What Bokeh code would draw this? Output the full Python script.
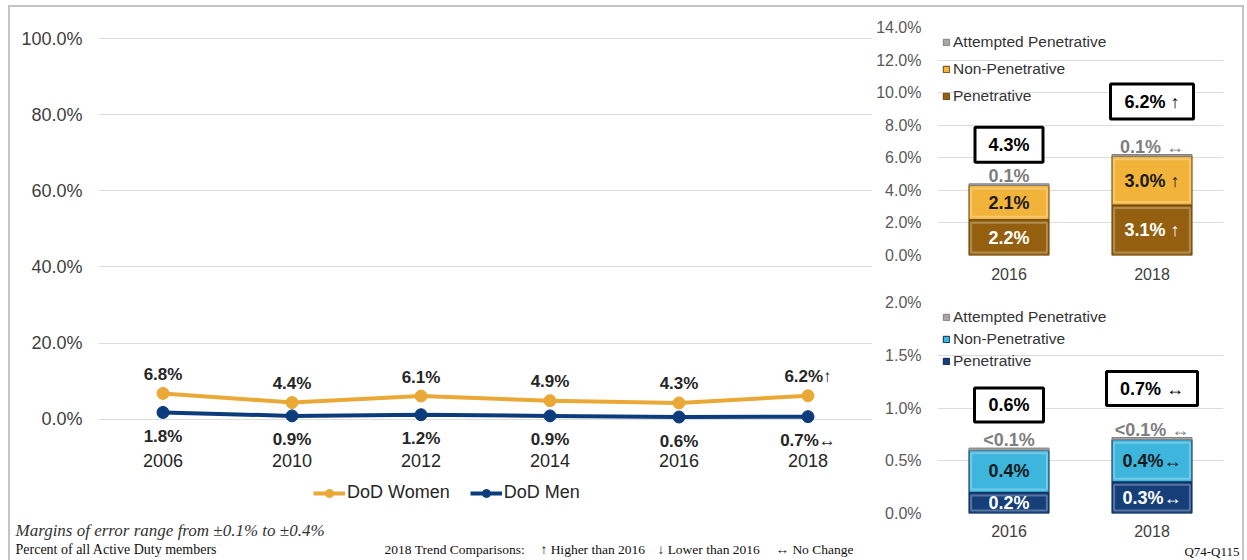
from bokeh.plotting import figure
from bokeh.models import (FactorRange, Range1d, FixedTicker, PrintfTickFormatter,
                          Legend, LegendItem, Label, ColumnDataSource, Title)
from bokeh.layouts import row, column
from bokeh.embed import file_html
from bokeh.resources import INLINE
from bokeh.core.properties import value

SANS = "Liberation Sans"
SERIF = "Liberation Serif"

# ---------------- data ----------------
years = ["2006", "2010", "2012", "2014", "2016", "2018"]
women = [6.8, 4.4, 6.1, 4.9, 4.3, 6.2]
men = [1.8, 0.9, 1.2, 0.9, 0.6, 0.7]
women_trend = ["", "", "", "", "", "\u2191"]
men_trend = ["", "", "", "", "", "\u2194"]

bar_years = ["2016", "2018"]
women_pen = [2.2, 3.1]
women_non = [2.1, 3.0]
women_att = [0.1, 0.1]
women_total = [4.3, 6.2]
women_pen_trend = ["", " \u2191"]
women_non_trend = ["", " \u2191"]
women_att_trend = ["", " \u2194"]
women_total_trend = ["", " \u2191"]

men_pen = [0.2, 0.3]
men_non = [0.4, 0.4]
men_att = [0.02, 0.02]
men_total = [0.6, 0.7]
men_pen_trend = ["", "\u2194"]
men_non_trend = ["", "\u2194"]
men_att_trend = ["", " \u2194"]
men_total_trend = ["", " \u2194"]

tick_left = [0, 20, 40, 60, 80, 100]
tick_women = [0, 2, 4, 6, 8, 10, 12, 14]
tick_men = [0, 0.5, 1.0, 1.5, 2.0]

# ---------------- styles ----------------
GOLD = "#EAA937"
NAVY = "#0C3C7C"
BROWN = "#94600F"
AMBER = "#F2B33A"
GRAYBAR = "#A6A6A6"
DNAVY = "#163F7A"
CYAN = "#3DB5DD"
GRID = "#DCDCDC"


def pct(v):
    return "<0.1%" if v < 0.05 else f"{v:.1f}%"


def style_axes(p, ysize, xsize, ycolor, xcolor, ystand, xstand):
    for ax in (p.xaxis[0], p.yaxis[0]):
        ax.axis_line_color = None
        ax.major_tick_line_color = None
        ax.minor_tick_line_color = None
        ax.major_label_text_font = SANS
    p.yaxis.major_label_text_font_size = ysize
    p.yaxis.major_label_text_color = ycolor
    p.yaxis.major_label_standoff = ystand
    p.xaxis.major_label_text_font_size = xsize
    p.xaxis.major_label_text_color = xcolor
    p.xaxis.major_label_standoff = xstand
    p.outline_line_color = None
    p.xgrid.grid_line_color = None
    p.ygrid.grid_line_color = GRID
    p.background_fill_color = "white"
    p.border_fill_color = "white"


# ---------------- left line chart ----------------
left = figure(width=863, height=510, x_range=FactorRange(*years),
              y_range=Range1d(-25.263, 104.737), output_backend="svg",
              toolbar_location=None, min_border_left=88, min_border_right=1,
              min_border_top=13, min_border_bottom=2)
style_axes(left, "18px", "18px", "#404040", "#262626", 10, 0)
left.xaxis.fixed_location = -7.63
left.yaxis.ticker = FixedTicker(ticks=tick_left)
left.ygrid.ticker = FixedTicker(ticks=tick_left)
left.yaxis.formatter = PrintfTickFormatter(format="%.1f%%")

src = ColumnDataSource(dict(
    year=years, women=women, men=men,
    wl=[pct(v) + t for v, t in zip(women, women_trend)],
    ml=[pct(v) + t for v, t in zip(men, men_trend)],
))
w_line = left.line("year", "women", source=src, line_color=GOLD, line_width=4)
w_pt = left.scatter("year", "women", source=src, size=12, fill_color=GOLD, line_color=GOLD)
m_line = left.line("year", "men", source=src, line_color=NAVY, line_width=4)
m_pt = left.scatter("year", "men", source=src, size=12, fill_color=NAVY, line_color=NAVY)
left.text("year", "women", text="wl", source=src, text_align="center",
          text_baseline="middle", y_offset=-19, text_font=value(SANS),
          text_font_style="bold", text_font_size="17px", text_color="#262626")
left.text("year", "men", text="ml", source=src, text_align="center",
          text_baseline="middle", y_offset=24, text_font=value(SANS),
          text_font_style="bold", text_font_size="17px", text_color="#262626")

leg = Legend(items=[LegendItem(label="DoD Women", renderers=[w_line, w_pt]),
                    LegendItem(label="DoD Men", renderers=[m_line, m_pt])],
             orientation="horizontal", location=(215, 12), glyph_width=32,
             glyph_height=20, label_height=20, label_standoff=2, spacing=20,
             padding=0, margin=0, label_text_font=SANS, label_text_font_size="18px",
             label_text_color="#262626", background_fill_alpha=0,
             border_line_color=None)
left.add_layout(leg)

# ---------------- footer strip under the line chart ----------------
foot = figure(width=863, height=43, x_range=Range1d(0, 863), y_range=Range1d(0, 43),
              output_backend="svg", toolbar_location=None, x_axis_type=None,
              y_axis_type=None, min_border=0, outline_line_color=None,
              frame_align=False)
foot.grid.visible = False
foot.add_layout(Label(x=5, y=30, x_units="screen", y_units="screen",
                      text="Margins of error range from \u00b10.1% to \u00b10.4%",
                      text_font=SERIF, text_font_style="italic", text_font_size="17px",
                      text_color="#333333", text_baseline="middle"))
foot.add_layout(Label(x=5, y=11, x_units="screen", y_units="screen",
                      text="Percent of all Active Duty members", text_font=SERIF,
                      text_font_size="14px", text_color="#111111", text_baseline="middle"))
for xx, tt in [(374, "2018 Trend Comparisons:"), (530, "\u2191 Higher than 2016"),
               (647, "\u2193 Lower than 2016"), (765, "\u2194 No Change")]:
    foot.add_layout(Label(x=xx, y=11, x_units="screen", y_units="screen", text=tt,
                          text_font=SERIF, text_font_size="13.5px", text_color="#111111",
                          text_baseline="middle"))


# ---------------- stacked bar charts ----------------
def bar_chart(height, ymax, ticks, bt, bb, xstand, pen, non, att, total, tr_pen,
              tr_non, tr_att, tr_tot, c_pen, c_non, c_line, px_unit, box_gap, box_w,
              box_h, legend_spacing):
    p = figure(width=369, height=height, x_range=FactorRange(*bar_years),
               y_range=Range1d(0, ymax), output_backend="svg", toolbar_location=None,
               min_border_left=64, min_border_right=19, min_border_top=bt,
               min_border_bottom=bb)
    style_axes(p, "16px", "16px", "#595959", "#404040", 10, xstand)
    p.yaxis.ticker = FixedTicker(ticks=ticks)
    p.ygrid.ticker = FixedTicker(ticks=ticks)
    p.yaxis.formatter = PrintfTickFormatter(format="%.1f%%")

    mid = [a + b for a, b in zip(pen, non)]
    top = [m + c for m, c in zip(mid, att)]
    r_pen = p.vbar(x=bar_years, bottom=0, top=pen, width=0.56, fill_color=c_pen,
                   line_color=c_line, line_width=1)
    r_non = p.vbar(x=bar_years, bottom=pen, top=mid, width=0.56, fill_color=c_non,
                   line_color=c_line, line_width=1)
    r_att = p.vbar(x=bar_years, bottom=mid, top=top, width=0.56, fill_color=GRAYBAR,
                   line_color="#808080", line_width=1)
    # soft inner highlight to suggest the bevelled bars
    inset = 3 / px_unit
    for b, t in [([0, 0], pen), (pen, mid)]:
        p.vbar(x=bar_years, bottom=[v + inset for v in b], top=[v - inset for v in t],
               width=0.53, fill_color=None, line_color="white", line_alpha=0.28,
               line_width=2)

    common = dict(text_align="center", text_baseline="middle", text_font=value(SANS),
                  text_font_style="bold", text_font_size="18px")
    p.text(x=bar_years, y=[v / 2 for v in pen],
           text=[pct(v) + t for v, t in zip(pen, tr_pen)], text_color="white", **common)
    p.text(x=bar_years, y=[a + b / 2 for a, b in zip(pen, non)],
           text=[pct(v) + t for v, t in zip(non, tr_non)], text_color="#1A1A1A", **common)
    p.text(x=bar_years, y=top, y_offset=-8,
           text=[pct(v) + t for v, t in zip(att, tr_att)], text_color="#7F7F7F", **common)

    box_y = [t + g / px_unit for t, g in zip(top, box_gap)]
    p.rect(x=bar_years, y=box_y, width=box_w, height=box_h, width_units="screen",
           height_units="screen", fill_color="white", line_color="black", line_width=3)
    p.text(x=bar_years, y=box_y, text=[pct(v) + t for v, t in zip(total, tr_tot)],
           text_color="black", **common)

    lg = Legend(items=[LegendItem(label="Attempted Penetrative", renderers=[r_att]),
                       LegendItem(label="Non-Penetrative", renderers=[r_non]),
                       LegendItem(label="Penetrative", renderers=[r_pen])],
                location="top_left", glyph_width=8, glyph_height=8, label_height=20,
                label_standoff=3, spacing=legend_spacing, padding=0,
                margin=5, label_text_font=SANS,
                label_text_font_size="15.5px", label_text_color="#333333",
                background_fill_alpha=0, border_line_color=None)
    p.add_layout(lg)
    return p


tr = bar_chart(278, 14, tick_women, 20, 30, 6, women_pen, women_non, women_att,
               women_total, women_pen_trend, women_non_trend, women_att_trend,
               women_total_trend, BROWN, AMBER, "#6B4208", 228 / 14, [39, 53],
               [68, 83], 35, 7)
br = bar_chart(275, 2.0, tick_men, 17, 47, 5, men_pen, men_non, men_att,
               men_total, men_pen_trend, men_non_trend, men_att_trend,
               men_total_trend, DNAVY, CYAN, "#0B2A55", 211 / 2.0, [43, 49],
               [69, 91], 34, 2)
br.add_layout(Title(text="Q74-Q115", align="right", text_font=SERIF,
                    text_font_size="13px", text_font_style="normal",
                    text_color="#111111", standoff=4, offset=-16), "below")

layout = row(column(left, foot), column(tr, br),
             styles={"border": "2px solid #C4C4C4", "border-bottom": "none",
                     "margin": "5px 0 0 8px"})

open("out.html", "w").write(file_html(layout, INLINE))
